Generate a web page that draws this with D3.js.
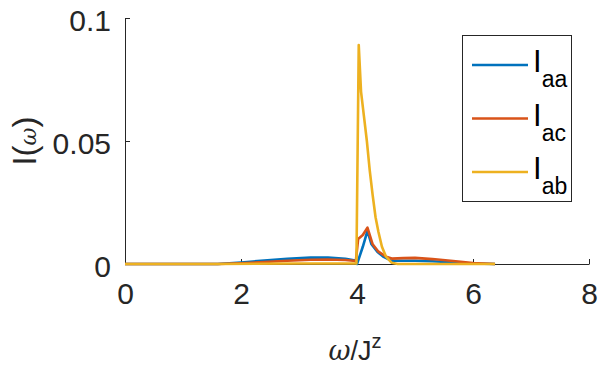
<!DOCTYPE html>
<html>
<head>
<meta charset="utf-8">
<script src="https://cdn.jsdelivr.net/npm/d3@7"></script>
<style>
  body { margin: 0; background: #fff; }
  text { font-family: "Liberation Sans", Arial, sans-serif; fill: #262626; }
</style>
</head>
<body>
<div class="chart"></div>
<script>
// spectra
var omegaAA = [0, 1.0, 1.6, 2.0, 2.4, 2.8, 3.2, 3.5, 3.8, 3.97, 4.0, 4.1, 4.18, 4.25, 4.35, 4.45, 4.6, 4.8, 5.0, 5.3, 5.6, 6.0, 6.38];
var valueAA = [0, 0, 0, 0.0006, 0.0014, 0.0021, 0.0026, 0.0026, 0.0021, 0.0014, 0, 0.007, 0.0135, 0.008, 0.005, 0.003, 0.0013, 0.0013, 0.0013, 0.0011, 0.0007, 0.0002, 0];

var omegaAC = [0, 1.0, 1.6, 2.0, 2.4, 2.8, 3.2, 3.5, 3.8, 3.98, 4.02, 4.1, 4.18, 4.27, 4.37, 4.5, 4.6, 4.8, 5.0, 5.3, 5.7, 6.0, 6.38];
var valueAC = [0, 0, 0, 0.0003, 0.0008, 0.0013, 0.0017, 0.0018, 0.0016, 0.0012, 0.0102, 0.0118, 0.0148, 0.008, 0.005, 0.003, 0.0022, 0.0024, 0.0025, 0.002, 0.0011, 0.0004, 0];

var omegaAB = [0, 1.6, 3.0, 3.99, 4.03, 4.07, 4.12, 4.17, 4.22, 4.27, 4.32, 4.37, 4.43, 4.5, 4.6, 4.7, 6.38];
var valueAB = [0, 0, 0.0002, 0.0002, 0.089, 0.07, 0.06, 0.05, 0.038, 0.028, 0.019, 0.013, 0.007, 0.003, 0.0005, 0, 0];

var seriesNames = ["aa", "ac", "ab"];
var seriesColors = ["#0072BD", "#D95319", "#EDB120"];
var xTicks = [0, 2, 4, 6, 8];
var yTicks = [0, 0.05, 0.1];

var width = 598,
    height = 373,
    mLeft = 125, mRight = 589, mTop = 18, mBottom = 264;

var svg = d3.select(".chart").append("svg")
    .attr("width", width)
    .attr("height", height);

var x = d3.scaleLinear().domain([0, 8]).range([mLeft, mRight]);
var y = d3.scaleLinear().domain([0, 0.1]).range([mBottom, mTop]);

// axes, MATLAB style (ticks inside, box off)
var xAxis = svg.append("g")
    .attr("transform", "translate(0," + mBottom + ")")
    .call(d3.axisBottom(x).tickValues(xTicks).tickSizeInner(-5).tickSizeOuter(0).tickPadding(22));
var yAxis = svg.append("g")
    .attr("transform", "translate(" + mLeft + ",0)")
    .call(d3.axisLeft(y).tickValues(yTicks).tickSizeInner(-5).tickSizeOuter(0).tickPadding(14)
        .tickFormat(function (d) { return d === 0 ? "0" : String(d); }));

[xAxis, yAxis].forEach(function (g) {
    g.select(".domain").attr("stroke", "#262626").attr("stroke-width", 1);
    g.selectAll(".tick line").attr("stroke", "#262626");
    g.selectAll(".tick text")
        .style("font-size", "30px")
        .style("font-family", "Liberation Sans, Arial, sans-serif")
        .attr("fill", "#262626");
});
yAxis.selectAll(".tick text").attr("dy", "0.42em");
xAxis.selectAll(".tick text").attr("dy", "0.6em");

// lines
var line = d3.line()
    .x(function (d) { return x(d[0]); })
    .y(function (d) { return y(d[1]); });

var series = [
    d3.zip(omegaAA, valueAA),
    d3.zip(omegaAC, valueAC),
    d3.zip(omegaAB, valueAB)
];

series.forEach(function (s, i) {
    svg.append("path")
        .datum(s)
        .attr("d", line)
        .attr("fill", "none")
        .attr("stroke", seriesColors[i])
        .attr("stroke-width", 2.6)
        .attr("stroke-linejoin", "round");
});

// axis labels
var xl = svg.append("text")
    .attr("x", 355)
    .attr("y", 360)
    .attr("text-anchor", "middle")
    .style("font-size", "27px");
xl.append("tspan").style("font-family", "DejaVu Serif, serif").style("font-style", "italic").text("ω");
xl.append("tspan").text("/J");
xl.append("tspan").attr("dy", -12).style("font-size", "20px").text("z");

var yl = svg.append("text")
    .attr("transform", "translate(36,141) rotate(-90)")
    .attr("text-anchor", "middle")
    .style("font-size", "33px");
yl.append("tspan").text("I(");
yl.append("tspan").style("font-family", "DejaVu Serif, serif").style("font-style", "italic").style("font-size", "22px").text("ω");
yl.append("tspan").text(")");

// legend
svg.append("rect")
    .attr("x", 462.5).attr("y", 35.5)
    .attr("width", 109).attr("height", 166)
    .attr("fill", "#fff")
    .attr("stroke", "#262626")
    .attr("stroke-width", 1);

seriesNames.forEach(function (name, i) {
    var ly = 65 + i * 53.5;
    svg.append("line")
        .attr("x1", 472).attr("x2", 528)
        .attr("y1", ly).attr("y2", ly)
        .attr("stroke", seriesColors[i])
        .attr("stroke-width", 2.6);
    var t = svg.append("text")
        .attr("x", 533)
        .attr("y", ly + 7)
        .style("font-size", "31px")
        .attr("fill", "#000");
    t.append("tspan").attr("fill", "#000").text("I");
    t.append("tspan").attr("dy", 15).attr("fill", "#000").style("font-size", "23px").text(name);
});
</script>
</body>
</html>
